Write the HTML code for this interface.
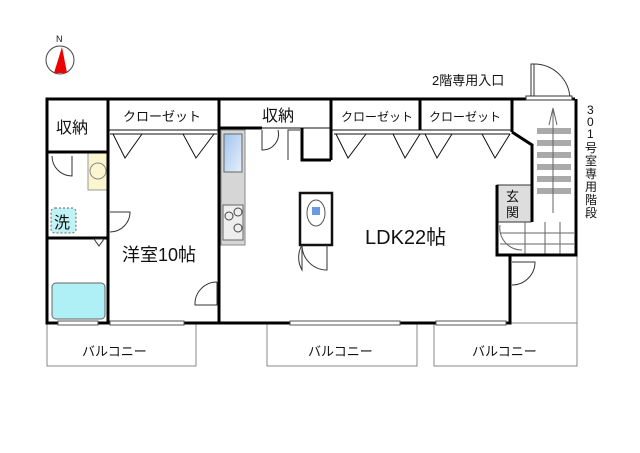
<!DOCTYPE html>
<html><head><meta charset="utf-8"><style>
html,body{margin:0;padding:0;background:#fff;}
svg{display:block;}
text{font-family:"Liberation Sans","Noto Sans CJK JP",sans-serif;fill:#111;}
</style></head><body>
<svg width="640" height="453" viewBox="0 0 640 453" xmlns="http://www.w3.org/2000/svg">
<defs>
<linearGradient id="sink" x1="0" y1="0" x2="1" y2="1"><stop offset="0" stop-color="#9fc4ef"/><stop offset="1" stop-color="#e8f0fb"/></linearGradient>
</defs>
<text x="56" y="42" font-size="9" fill="#555">N</text>
<circle cx="60" cy="60" r="14" fill="none" stroke="#444" stroke-width="1"/>
<polygon points="62,47 54,73 67,73" fill="#e00"/>

<g fill="none" stroke="#888" stroke-width="1">
<rect x="47" y="323" width="149" height="43"/>
<rect x="267" y="323" width="150" height="43"/>
<rect x="434" y="323" width="143" height="43"/>
<line x1="577" y1="255" x2="577" y2="323"/>
</g>
<text x="82" y="356" font-size="13">バルコニー</text>
<text x="308" y="356" font-size="13">バルコニー</text>
<text x="472" y="356" font-size="13">バルコニー</text>

<rect x="88" y="153" width="19" height="37" fill="#fbf6cf" stroke="#999" stroke-width="1"/>
<circle cx="98" cy="171" r="8" fill="none" stroke="#888"/>
<rect x="51" y="208" width="25" height="25" rx="4" fill="#bff3f6" stroke="#666" stroke-dasharray="2,2"/>
<text x="54" y="228" font-size="16">洗</text>
<rect x="52" y="283" width="53" height="36" rx="4" fill="#aef0f6" stroke="#666"/>
<rect x="221" y="130" width="24" height="115" fill="#d6d6d6" stroke="#888"/>
<rect x="224" y="134" width="18" height="38" fill="url(#sink)" stroke="#666"/>
<rect x="223" y="205" width="20" height="35" fill="#eee" stroke="#666"/>
<circle cx="229" cy="216" r="4" fill="none" stroke="#444"/><circle cx="238" cy="212" r="4" fill="none" stroke="#444"/><circle cx="238" cy="228" r="4" fill="none" stroke="#444"/>
<rect x="300" y="193" width="32" height="52" fill="#fff" stroke="#111" stroke-width="2.5"/>
<ellipse cx="316" cy="213" rx="9" ry="13" fill="none" stroke="#555"/>
<rect x="312" y="207" width="8" height="8" fill="#6a9be0"/>
<rect x="497" y="185" width="34" height="37" fill="#ddd" stroke="#333"/>
<text x="506" y="201" font-size="13">玄</text>
<text x="506" y="217" font-size="13">関</text>

<g fill="#aaa">
<rect x="537" y="128" width="34" height="6"/><rect x="537" y="140" width="34" height="6"/><rect x="537" y="152" width="34" height="6"/><rect x="537" y="164" width="34" height="6"/><rect x="537" y="176" width="34" height="6"/><rect x="537" y="188" width="34" height="6"/>
</g>
<g stroke="#666" fill="none" stroke-width="1">
<line x1="553" y1="108" x2="553" y2="213"/><polyline points="549,125 553,108 557,125"/>
<line x1="500" y1="233" x2="574" y2="233"/><line x1="500" y1="244" x2="574" y2="244"/>
<line x1="525" y1="222" x2="525" y2="255"/><line x1="545" y1="222" x2="545" y2="255"/><line x1="560" y1="222" x2="560" y2="255"/>
<path d="M500 225 A22 22 0 0 0 522 250"/>
</g>

<g stroke="#111" stroke-width="1" fill="none">
<line x1="108" y1="130" x2="219" y2="130"/>
<line x1="219" y1="128" x2="330" y2="128"/>
<line x1="332" y1="130" x2="512" y2="130"/>
<line x1="110" y1="134" x2="217" y2="134"/>
<line x1="334" y1="134" x2="510" y2="134"/>
<polyline points="113,134 125,158 142,134"/><polyline points="183,134 196,158 214,134"/>
<polyline points="336,134 348,158 366,134"/><polyline points="393,134 405,158 420,134"/>
<polyline points="425,134 437,158 452,134"/><polyline points="482,134 495,158 510,134"/>
</g>

<g stroke="#000" stroke-width="3" fill="none">
<polyline points="575,99 47,99 47,323 510,323 510,255"/>
<line x1="108" y1="99" x2="108" y2="323"/>
<line x1="219" y1="99" x2="219" y2="323"/>
<line x1="331" y1="99" x2="331" y2="160"/>
<polyline points="302,128 302,160 331,160"/>
<line x1="420" y1="99" x2="420" y2="130"/>
<line x1="47" y1="152" x2="108" y2="152"/>
<line x1="47" y1="238" x2="108" y2="238"/>
<line x1="512" y1="99" x2="512" y2="132"/>
<polyline points="512,132 532,145 532,222"/>
<polyline points="497,185 497,255 576,255 576,99"/>
<line x1="219" y1="128" x2="262" y2="128"/>
</g>
<g stroke="#555" stroke-width="1" fill="#fff">
<rect x="58" y="321" width="40" height="4"/><rect x="110" y="321" width="74" height="4"/>
<rect x="290" y="321" width="110" height="4"/><rect x="436" y="321" width="70" height="4"/>
</g>
<g stroke="#333" stroke-width="1" fill="#fff">
<rect x="531" y="64" width="3" height="35"/><path d="M534 64 A36 36 0 0 1 570 99" fill="none"/>
<rect x="526" y="96" width="46" height="4"/>
<path d="M52 156 A20 20 0 0 0 72 176 L72 156" fill="none"/>
<path d="M110 212 L130 212 A20 20 0 0 1 110 232" fill="none"/>
<path d="M217 282 L217 305 L195 305 A22 22 0 0 1 217 282" fill="none"/>
<path d="M302 245 L302 270 A25 25 0 0 1 302 245" fill="none"/>
<path d="M302 245 A25 25 0 0 0 327 270 L327 245" fill="none"/>
<path d="M512 262 L535 262 A23 23 0 0 1 512 285" fill="none"/>
<path d="M262 130 L262 150 A16 16 0 0 0 278 130" fill="none"/>
<path d="M300 130 L288 130 L288 160" fill="none"/>
<path d="M94 239 L104 239 L99 246 Z"/>
</g>

<text x="56" y="133" font-size="16">収納</text>
<text x="123" y="121" font-size="13">クローゼット</text>
<text x="262" y="121" font-size="16">収納</text>
<text x="341" y="121" font-size="12">クローゼット</text>
<text x="429" y="121" font-size="12">クローゼット</text>
<text x="122" y="261" font-size="18">洋室10帖</text>
<text x="365" y="244" font-size="20">LDK22帖</text>
<text x="432" y="85" font-size="13">2階専用入口</text>
<g font-size="12">
<text x="587" y="114">3</text><text x="587" y="126">0</text><text x="587" y="138">1</text>
<text x="585" y="152">号</text><text x="585" y="165">室</text><text x="585" y="178">専</text><text x="585" y="191">用</text><text x="585" y="204">階</text><text x="585" y="217">段</text>
</g>
</svg>
</body></html>
